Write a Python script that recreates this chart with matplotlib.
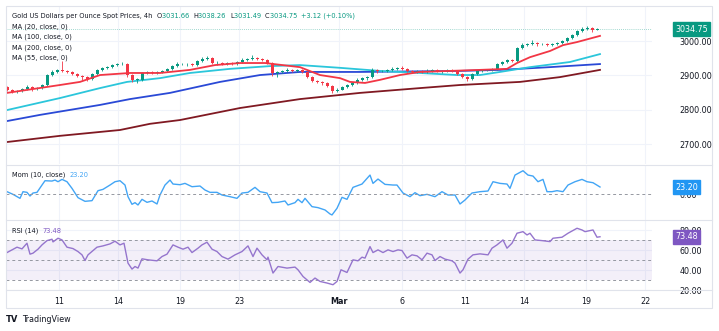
import matplotlib
matplotlib.use('Agg')
import matplotlib.pyplot as plt
import numpy as np
from matplotlib.lines import Line2D
from matplotlib.patches import Rectangle

plt.rcParams['font.family'] = ['DejaVu Sans']

# ---------------- DATA ----------------
first_open = 2866.0
close = [2858, 2852, 2855, 2860, 2866, 2860, 2863, 2872, 2901, 2910,
         2916, 2913, 2910, 2904, 2898, 2895, 2890, 2904, 2916, 2922,
         2924, 2930, 2933, 2933, 2901, 2887, 2887, 2907, 2910, 2907,
         2910, 2913, 2919, 2927, 2933, 2933, 2933, 2930, 2942, 2948,
         2951, 2936, 2936, 2933, 2936, 2933, 2939, 2945, 2948, 2951,
         2948, 2945, 2936, 2907, 2910, 2913, 2916, 2913, 2916, 2910,
         2895, 2884, 2881, 2878, 2869, 2855, 2858, 2866, 2872, 2878,
         2887, 2892, 2895, 2916, 2913, 2913, 2916, 2919, 2922, 2919,
         2913, 2910, 2913, 2910, 2913, 2916, 2913, 2913, 2916, 2913,
         2904, 2895, 2890, 2904, 2913, 2916, 2916, 2919, 2933, 2939,
         2945, 2942, 2980, 2988, 2991, 2994, 2991, 2991, 2988, 2991,
         2994, 3000, 3009, 3017, 3029, 3035, 3038, 3031.66, 3034.75]
up_wick = [4, 3, 2, 3, 5, 2, 3, 4, 3, 5,
           4, 26, 3, 2, 4, 3, 2, 3, 4, 3,
           2, 4, 3, 5, 3, 2, 4, 3, 2, 3,
           4, 3, 2, 3, 5, 4, 3, 2, 3, 6,
           4, 3, 5, 2, 3, 4, 3, 5, 4, 8,
           3, 4, 3, 2, 4, 3, 5, 3, 4, 2,
           3, 2, 4, 3, 2, 3, 4, 3, 2, 3,
           4, 3, 2, 5, 3, 4, 3, 6, 3, 4,
           3, 2, 4, 3, 5, 2, 3, 4, 3, 2,
           3, 4, 2, 3, 4, 3, 2, 3, 4, 3,
           2, 3, 4, 5, 3, 8, 4, 3, 2, 3,
           4, 3, 2, 3, 4, 5, 7, 3, 3.5]
dn_wick = [3, 4, 2, 3, 2, 5, 3, 2, 4, 3,
           2, 3, 4, 2, 3, 8, 6, 3, 2, 4,
           3, 2, 4, 3, 5, 6, 8, 3, 2, 4,
           3, 2, 4, 3, 2, 3, 5, 4, 3, 2,
           3, 4, 6, 3, 2, 4, 3, 2, 3, 4,
           3, 2, 4, 8, 12, 3, 2, 4, 3, 2,
           4, 3, 2, 5, 3, 6, 3, 2, 4, 3,
           3, 2, 4, 3, 5, 3, 2, 4, 3, 2,
           3, 4, 2, 3, 2, 4, 3, 6, 3, 2,
           3, 2, 6, 3, 2, 4, 3, 2, 3, 4,
           3, 2, 4, 3, 2, 3, 4, 2, 3, 3,
           2, 3, 4, 3, 2, 3, 2, 6, 0.2]

ma20_t = [0, 10.6, 14.6, 18.6, 24.6, 30.6, 36.6, 41.6, 46.6, 51.6, 58.6, 62.6, 66.6,
          68.6, 71.6, 74.6, 78.6, 82.6, 88.6, 94.6, 100, 102, 104.6, 108.6, 111.2, 114, 118.6]
ma20_v = [2849, 2872, 2881, 2901, 2907, 2907, 2916, 2930, 2936, 2936, 2924, 2901, 2892,
          2881, 2878, 2887, 2901, 2910, 2913, 2916, 2919, 2936, 2953, 2971, 2988, 2997, 3015]
ma55_t = [0, 10.6, 18.6, 24, 30.6, 36.6, 44.6, 52.6, 58.6, 66.6, 74.6, 82.6, 90, 94.6,
          98.6, 104.6, 112.6, 118.6]
ma55_v = [2799, 2834, 2863, 2881, 2892, 2907, 2919, 2927, 2930, 2922, 2913, 2907, 2901, 2901,
          2910, 2924, 2939, 2962]
ma100_t = [0, 6.6, 18.6, 24.6, 32.6, 42.6, 50.6, 58.6, 70.6, 90.6, 98.6, 108.6, 118.6]
ma100_v = [2767, 2785, 2814, 2831, 2849, 2881, 2901, 2910, 2910, 2913, 2916, 2924, 2933]
ma200_t = [0, 10.6, 22.6, 28.6, 34.6, 46.6, 58.6, 70.6, 82.6, 90.6, 102.6, 110.6, 118.6]
ma200_v = [2706, 2724, 2741, 2759, 2770, 2805, 2831, 2849, 2863, 2872, 2881, 2895, 2916]

mom_t = [0, 1.2, 2.6, 3.2, 4.0, 4.6, 5.2, 6.0, 7.0, 7.6, 9.0, 9.6, 10.2, 11.0, 12.0, 13.0,
         14.2, 15.6, 17.0, 18.2, 19.2, 20.6, 21.6, 22.6, 23.6, 24.2, 25.0, 25.6, 26.2, 27.0,
         28.0, 29.0, 30.0, 30.6, 31.6, 32.6, 33.2, 34.6, 35.6, 37.0, 38.6, 39.6, 40.6, 42.0,
         43.0, 44.6, 46.0, 47.0, 48.2, 49.6, 50.6, 52.0, 53.0, 54.2, 55.6, 56.2, 57.6, 58.2,
         59.0, 59.6, 61.0, 62.2, 63.6, 64.6, 65.0, 66.0, 67.0, 68.0, 69.2, 71.0, 72.6, 73.2,
         74.2, 75.6, 77.2, 78.0, 79.2, 80.6, 81.6, 82.6, 84.0, 85.6, 87.0, 88.2, 89.6, 90.6,
         91.6, 93.0, 94.6, 96.2, 97.2, 98.6, 100.0, 100.6, 101.6, 103.2, 104.2, 105.2, 106.2,
         107.2, 108.0, 109.0, 110.0, 111.2, 112.2, 113.6, 115.0, 116.0, 117.2, 118.6]
mom_v = [7.7, -1.1, -14.3, 7.7, 5.5, -6.6, 3.3, 5.5, 29.7, 44, 42.9, 46.2, 40.7, 48.4, 40.7,
         18.7, -12.1, -24.2, -22, 11, 15.4, 29.7, 40.7, 44, 29.7, -8.8, -34.1, -28.6, -36.3,
         -17.6, -27.5, -23.1, -33, -3.3, 29.7, 46.2, 33, 30.8, 35.2, 24.2, 26.4, 13.2, 5.5, 5.5,
         -3.3, -8.8, -14.3, 3.3, 5.5, 22, 7.7, 3.3, -28.6, -27.5, -23.1, -36.3, -28.6, -17.6,
         -28.6, -14.3, -41.8, -45.1, -52.8, -66, -69.3, -47.3, -11, -17.6, 22, 33, 62.7, 35.2,
         49.5, 31.9, 29.7, 29.7, 3.3, -8.8, 4.4, -5.5, -1.1, -8.8, 7.7, -3.3, -3.3, -33,
         -19.8, 3.3, 7.7, 9.9, 40.7, 35.2, 33, 18.7, 62.7, 77, 62.7, 59.4, 40.7,
         48.4, 7.7, 7.7, 11, 7.7, 29.7, 40.7, 48.4, 40.7, 37.4, 23.2]

rsi_t = [0, 1.0, 2.0, 3.0, 4.0, 4.6, 5.2, 6.2, 7.0, 8.0, 9.0, 9.2, 10.2, 11.0, 12.0, 13.2,
         14.2, 15.0, 15.6, 16.2, 18.0, 19.2, 20.6, 21.6, 22.6, 23.4, 24.2, 25.0, 25.6, 26.2,
         27.0, 28.2, 30.0, 31.0, 32.0, 33.2, 34.2, 35.2, 36.2, 37.0, 38.2, 39.0, 40.0, 41.0,
         42.0, 43.0, 44.2, 45.6, 47.0, 48.2, 49.2, 50.0, 51.0, 52.0, 52.2, 53.2, 54.2, 56.0,
         57.6, 58.2, 59.2, 60.6, 61.6, 62.6, 64.0, 65.2, 66.0, 66.8, 68.0, 69.2, 70.2, 71.0,
         71.6, 72.6, 73.2, 74.2, 75.2, 76.2, 77.2, 78.2, 79.0, 80.0, 81.0, 82.0, 83.0, 84.0,
         85.0, 85.6, 86.6, 87.6, 89.0, 89.6, 90.6, 91.2, 92.2, 93.2, 94.6, 96.2, 97.0, 98.0,
         99.2, 100.0, 101.0, 102.0, 103.2, 104.0, 104.6, 105.6, 107.0, 108.6, 109.2, 111.0,
         112.2, 114.0, 115.0, 115.6, 117.2, 118.0, 118.6]
rsi_v = [57.6, 60.3, 63, 61.3, 67, 56, 57, 61, 65.3, 69.6, 71, 68.3, 72, 70.3, 63, 61.6,
         58.6, 55.3, 49.6, 55.3, 63, 64.3, 66.3, 69, 65.3, 67, 47, 41, 43.6, 42,
         51.3, 50.3, 49.3, 53.6, 56, 65.3, 63, 61, 63, 57.6, 62, 65.3, 68, 61,
         58.6, 53.6, 51, 55.3, 58.6, 64.3, 53.6, 62, 55.3, 50.3, 53, 37, 43.6, 42,
         43, 40.3, 33.6, 27.6, 32, 28.6, 27, 25.3, 28.6, 40.3, 37.6, 50.3, 49.3, 53,
         52, 63.6, 57.6, 60.3, 57.6, 60.3, 58.6, 60.3, 59.6, 52, 55.3, 54.3, 50.3, 57,
         55.3, 49.6, 53.6, 51, 49.3, 47, 37, 40.3, 51, 55.3, 56.3, 55.3, 62, 65.3,
         70.3, 62, 67, 77, 78.6, 75.3, 77, 70.3, 69.6, 68.6, 72, 73,
         77, 82, 80.3, 78.6, 80.3, 73, 73.48]

tick_pos = [10.4, 22.2, 34.6, 46.4, 66.4, 79, 91.6, 103.4, 115.8, 127.6]
tick_lbl = ['11', '14', '19', '23', 'Mar', '6', '11', '14', '19', '22']
price_ticks = [2700, 2800, 2900, 3000]
rsi_ticks = [20, 40, 60, 80]
last_price = 3034.75
last_mom = 23.20
last_rsi = 73.48

# ---------------- STYLE ----------------
UP = '#089981'
DN = '#f23645'
TXT = '#131722'
GRID = '#f0f3fa'
SEP = '#e0e3eb'
FS = 5.8

W, H = 719, 331
fig = plt.figure(figsize=(W / 100, H / 100), dpi=100)
fig.patch.set_facecolor('white')


def fx(px):
    return px / W


def fy(py):
    return 1 - py / H


L, R = 6, 652
ax = fig.add_axes([fx(L), fy(164), (R - L) / W, 158 / H])
axm = fig.add_axes([fx(L), fy(220), (R - L) / W, 55 / H], sharex=ax)
axr = fig.add_axes([fx(L), fy(290), (R - L) / W, 70 / H], sharex=ax)

for a in (ax, axm, axr):
    for s in a.spines.values():
        s.set_visible(False)
    a.set_xticks(tick_pos)
    a.grid(True, axis='x', color=GRID, lw=0.8)
    a.yaxis.tick_right()
    a.tick_params(axis='y', length=0, pad=20, labelsize=FS, labelcolor=TXT)
    a.tick_params(axis='x', length=0)
    a.set_axisbelow(True)

ax.set_xlim(-0.2, 129)

# candles
n = len(close)
xs = np.arange(n)
opens = [first_open] + close[:-1]
c_arr = np.array(close, dtype=float)
o_arr = np.array(opens, dtype=float)
highs = np.maximum(o_arr, c_arr) + np.array(up_wick)
lows = np.minimum(o_arr, c_arr) - np.array(dn_wick)
cols = [UP if c >= o else DN for o, c in zip(o_arr, c_arr)]
ax.vlines(xs, lows, highs, colors=cols, lw=0.6, zorder=3)
ax.bar(xs, np.maximum(np.abs(c_arr - o_arr), 1.2), bottom=np.minimum(o_arr, c_arr),
       width=0.6, color=cols, zorder=4, linewidth=0)

ax.plot(ma200_t, ma200_v, color='#801922', lw=1.3, zorder=2)
ax.plot(ma100_t, ma100_v, color='#2a49d6', lw=1.3, zorder=2)
ax.plot(ma55_t, ma55_v, color='#2bc6db', lw=1.3, zorder=2)
ax.plot(ma20_t, ma20_v, color='#f23645', lw=1.3, zorder=5)

ax.set_ylim(2642, 3102)
ax.set_yticks(price_ticks)
ax.set_yticklabels([f'{v:.2f}' for v in price_ticks])
ax.grid(True, axis='y', color=GRID, lw=0.8)
ax.axhline(last_price, color=UP, ls=(0, (1, 1.5)), lw=0.6, alpha=0.5, zorder=1)
ax.tick_params(axis='x', labelbottom=False)

# momentum
axm.plot(mom_t, mom_v, color='#42a5f5', lw=1.0)
axm.axhline(0, color='#9598a1', ls=(0, (3, 3)), lw=0.7)
axm.set_ylim(-86, 96)
axm.set_yticks([0])
axm.set_yticklabels(['0.00'])
axm.tick_params(axis='x', labelbottom=False)

# RSI
axr.axhspan(30, 70, color='#7e57c2', alpha=0.09, lw=0)
for lv in (70, 50, 30):
    axr.axhline(lv, color='#9598a1', ls=(0, (3, 3)), lw=0.7)
axr.plot(rsi_t, rsi_v, color='#9575cd', lw=1.0)
axr.set_ylim(20.3, 90.3)
axr.set_yticks(rsi_ticks)
axr.set_yticklabels([f'{v:.2f}' for v in rsi_ticks])
axr.grid(True, axis='y', color=GRID, lw=0.8)
axr.set_xticklabels(tick_lbl)
axr.tick_params(axis='x', labelsize=FS, labelcolor=TXT, pad=5)
for t in axr.get_xticklabels():
    if t.get_text() == 'Mar':
        t.set_fontweight('bold')


# value boxes on the scale
def vbox(a, val, col):
    a.text(1.036, val, f'{val:.2f}', transform=a.get_yaxis_transform(), ha='left', va='center',
           fontsize=FS, color='white', zorder=10, clip_on=False,
           bbox=dict(boxstyle='square,pad=0.3', fc=col, ec=col))


vbox(ax, last_price, UP)
vbox(axm, last_mom, '#2196f3')
vbox(axr, last_rsi, '#7e57c2')

# frame and separators
fig.add_artist(Rectangle((fx(6), fy(308)), (712 - 6) / W, (308 - 6) / H, transform=fig.transFigure,
                         fill=False, ec=SEP, lw=0.8))
for yy in (164.5, 220, 290):
    fig.add_artist(Line2D([fx(6), fx(712)], [fy(yy), fy(yy)], transform=fig.transFigure,
                          color=SEP, lw=0.8))

# legend texts
fig.canvas.draw()
renderer = fig.canvas.get_renderer()


def seq(parts, x0, y0, size=4.8):
    x = fx(x0)
    for s, col in parts:
        t = fig.text(x, fy(y0), s, color=col, fontsize=size, ha='left', va='center')
        bb = t.get_window_extent(renderer)
        x += bb.width / W


seq([('Gold US Dollars per Ounce Spot Prices, 4h  ', TXT), ('O', TXT), ('3031.66  ', UP),
     ('H', TXT), ('3038.26  ', UP), ('L', TXT), ('3031.49  ', UP), ('C', TXT),
     ('3034.75  ', UP), ('+3.12 (+0.10%)', UP)], 12, 16)
for yy, s in zip((26.5, 37, 47.5, 58), ('MA (20, close, 0)', 'MA (100, close, 0)',
                                        'MA (200, close, 0)', 'MA (55, close, 0)')):
    seq([(s, TXT)], 12, yy)
seq([('Mom (10, close)  ', TXT), (f'{last_mom:.2f}', '#42a5f5')], 12, 175)
seq([('RSI (14)  ', TXT), (f'{last_rsi:.2f}', '#7e57c2')], 12, 231)

fig.text(fx(6), fy(320), 'TV', fontsize=6.0, fontweight='bold', color=TXT, ha='left', va='center')
fig.text(fx(22), fy(320), 'TradingView', fontsize=5.8, color=TXT, ha='left', va='center')

fig.savefig('out.png', dpi=100)
